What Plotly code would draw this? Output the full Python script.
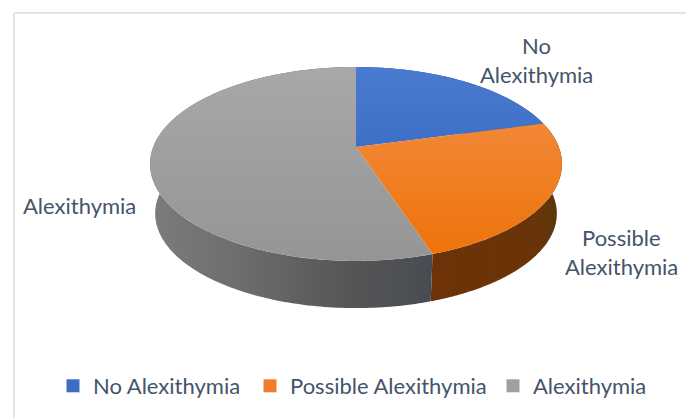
import numpy as np
import plotly.graph_objects as go

categories = ["No Alexithymia", "Possible Alexithymia", "Alexithymia"]
values = [20.8, 24.1, 55.1]
top_colors = [("#4a7bd0", "#2a5fbc"), ("#f3904a", "#ee7208"), ("#a8a8a8", "#959595")]
wall_colors = [
    [(0, "#24457f"), (1, "#24457f")],
    [(0, "#6e3208"), (0.8, "#693408"), (1, "#55380c")],
    [(0, "#7c7c7c"), (0.3, "#6e6e6e"), (0.7, "#565656"), (1, "#484c52")],
]
legend_colors = ["#3d6cc2", "#ef7d2b", "#a0a0a0"]
legend_x = [53, 250, 493]
label_lines = [("No", 536, 45), ("Alexithymia", 536, 74),
               ("Possible", 621, 237), ("Alexithymia", 621, 266),
               ("Alexithymia", 79, 205)]
TEXT = "#44546a"
FONT = "Lato"
W, H = 686, 418

CX, CY, A, B, K = 356, 147, 94, 202.8, 0.175
SC, DY = 0.975, 50


def project(theta):
    """theta is clockwise from 12 o'clock; perspective-projected disc."""
    c, s = np.sin(theta), -np.cos(theta)
    w = 1 - K * s
    return CX + B * c / w, CY + A * s / w


fig = go.Figure()
edges = 2 * np.pi * np.concatenate([[0], np.cumsum(values)]) / np.sum(values)

# side walls
for i in range(len(values)):
    t = np.linspace(edges[i], edges[i + 1], 200)
    x, y = project(t)
    xb, yb = CX + SC * (x - CX), CY + SC * (y - CY) + DY
    fig.add_trace(go.Scatter(
        x=np.r_[x, xb[::-1]], y=np.r_[y, yb[::-1]], mode="none",
        fill="toself", showlegend=False, hoverinfo="skip",
        fillgradient=dict(type="horizontal",
                          start=150 if i == 2 else (431 if i == 1 else 356),
                          stop=431 if i == 2 else (563 if i == 1 else 541),
                          colorscale=wall_colors[i])))

# top faces
for i in range(len(values)):
    t = np.linspace(edges[i], edges[i + 1], 300)
    x, y = project(t)
    fig.add_trace(go.Scatter(
        x=np.r_[CX, x, CX], y=np.r_[CY, y, CY], mode="none",
        fill="toself", showlegend=False, name=categories[i], hoverinfo="name",
        fillgradient=dict(type="vertical", start=67, stop=261,
                          colorscale=[(0, top_colors[i][0]), (1, top_colors[i][1])])))

# legend entries: one legend per entry so each can sit at its own position
legends = {}
for j, (name, col, lx) in enumerate(zip(categories, legend_colors, legend_x)):
    key = "legend" if j == 0 else f"legend{j + 1}"
    fig.add_trace(go.Scatter(x=[None], y=[None], mode="markers", name=name, legend=key,
                             marker=dict(symbol="square", size=13, color=col)))
    legends[key] = dict(x=lx / W, y=1 - 386 / H, xanchor="left", yanchor="middle",
                        font=dict(family=FONT, size=22, color=TEXT),
                        bgcolor="rgba(0,0,0,0)", itemclick=False, itemdoubleclick=False)

for text, x, y in label_lines:
    fig.add_annotation(x=x, y=y, text=text, showarrow=False, xanchor="center", yanchor="middle",
                       font=dict(family=FONT, size=22, color=TEXT))

border = dict(color="#dfe5ec", width=2)
fig.add_shape(type="line", x0=14, x1=W, y0=13, y1=13, line=border, layer="below")
fig.add_shape(type="line", x0=14, x1=14, y0=13, y1=H, line=border, layer="below")

fig.update_layout(
    width=W, height=H, margin=dict(l=0, r=0, t=0, b=0),
    paper_bgcolor="white", plot_bgcolor="white",
    xaxis=dict(range=[0, W], visible=False, fixedrange=True),
    yaxis=dict(range=[H, 0], visible=False, fixedrange=True),
    **legends,
)
fig.write_html("out.html", config={"displayModeBar": False},
               post_script="document.body.style.margin='0';")
